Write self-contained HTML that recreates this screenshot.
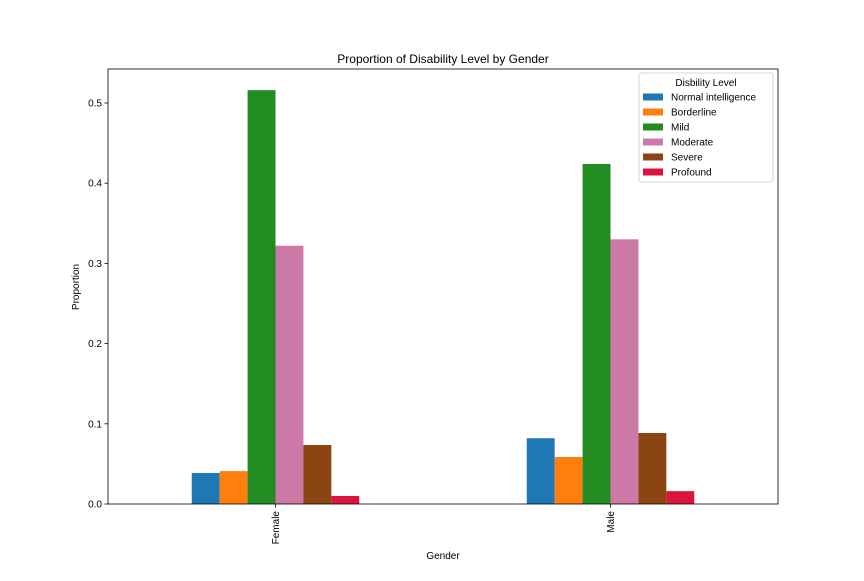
<!DOCTYPE html>
<html><head><meta charset="utf-8"><style>
body{margin:0;background:#fff;}
svg text{font-family:"Liberation Sans","DejaVu Sans",sans-serif;fill:#000;}
</style></head><body>
<svg id="chart" width="864" height="576" xmlns="http://www.w3.org/2000/svg">
<rect width="864" height="576" fill="#fff"/>
<text x="443" y="63" font-size="12" text-anchor="middle">Proportion of Disability Level by Gender</text>
<g id="bars"></g>
<g id="axes"></g>
<rect x="108" y="69" width="670" height="435" fill="none" stroke="#000" stroke-width="0.8"/>
<text x="443" y="559" font-size="10" text-anchor="middle">Gender</text>
<text transform="translate(79,287) rotate(-90)" font-size="10" text-anchor="middle">Proportion</text>
<g id="legend">
<rect x="639" y="73" width="134" height="109" rx="2" fill="#fff" stroke="#ccc" stroke-width="0.8"/>
<text x="706" y="86" font-size="10" text-anchor="middle">Disbility Level</text>
</g>
</svg>
<script>
const categories = ["Female", "Male"];
const seriesNames = ["Normal intelligence", "Borderline", "Mild", "Moderate", "Severe", "Profound"];
const normalVals = [0.0387, 0.082];
const borderlineVals = [0.041, 0.0586];
const mildVals = [0.516, 0.424];
const moderateVals = [0.322, 0.330];
const severeVals = [0.0736, 0.0885];
const profoundVals = [0.010, 0.016];
const yTicks = [0.0, 0.1, 0.2, 0.3, 0.4, 0.5];
const yTickLabels = ["0.0", "0.1", "0.2", "0.3", "0.4", "0.5"];

const series = [normalVals, borderlineVals, mildVals, moderateVals, severeVals, profoundVals];
const colors = ["#1f77b4", "#ff7f0e", "#228b22", "#cc79a7", "#8b4513", "#dc143c"];
const NS = "http://www.w3.org/2000/svg";
const L = 108, R = 778, T = 69, B = 504;
const yScale = v => B - v * 802;
const groupW = (R - L) / categories.length;
const xCenter = i => L + groupW * (i + 0.5);
const barW = groupW * 0.5 / series.length;

function mk(tag, attrs, parent) {
  const e = document.createElementNS(NS, tag);
  for (const k in attrs) e.setAttribute(k, attrs[k]);
  parent.appendChild(e);
  return e;
}
const barsG = document.getElementById("bars");
series.forEach((vals, s) => {
  vals.forEach((v, i) => {
    const x = xCenter(i) - groupW * 0.25 + s * barW;
    const r = mk("rect", {x: x, y: yScale(v), width: barW, height: B - yScale(v), fill: colors[s]}, barsG);
    
    
  });
});
const axesG = document.getElementById("axes");
yTicks.forEach((t, i) => {
  const y = yScale(t);
  const l = mk("line", {x1: L - 3.5, x2: L, y1: y, y2: y, stroke: "#000", "stroke-width": 0.8}, axesG);
  
  
  const tx = mk("text", {x: L - 6, y: y + 3.5, "font-size": 10, "text-anchor": "end"}, axesG);
  tx.textContent = yTickLabels[i];
  
  
});
categories.forEach((c, i) => {
  const x = xCenter(i);
  const l = mk("line", {x1: x, x2: x, y1: B, y2: B + 3.5, stroke: "#000", "stroke-width": 0.8}, axesG);
  
  
  const tx = mk("text", {transform: "translate(" + (x + 3.5) + "," + (B + 7) + ") rotate(-90)", "font-size": 10, "text-anchor": "end"}, axesG);
  tx.textContent = c;
  
  
});
const legG = document.getElementById("legend");
seriesNames.forEach((n, s) => {
  const y = 97 + s * 15;
  const g = mk("g", {}, legG);
  
  
  mk("rect", {x: 643, y: y - 3.5, width: 20, height: 7, fill: colors[s]}, g);
  const tx = mk("text", {x: 671, y: y + 3.5, "font-size": 10}, g);
  tx.textContent = n;
});
</script>
</body></html>
